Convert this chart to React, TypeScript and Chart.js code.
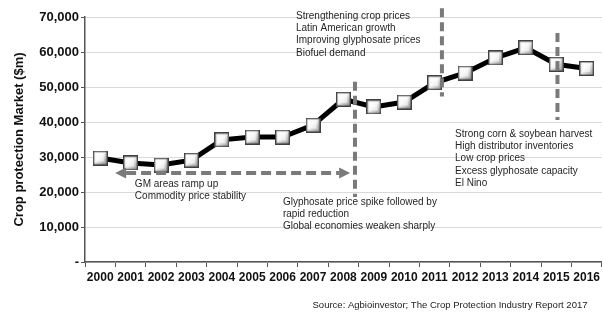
import React, { useEffect, useRef } from "react";
import { Chart, registerables } from "chart.js";

Chart.register(...registerables);

const years = ["2000", "2001", "2002", "2003", "2004", "2005", "2006", "2007", "2008", "2009", "2010", "2011", "2012", "2013", "2014", "2015", "2016"];
const marketValues = [29700, 28300, 27700, 29100, 34900, 35700, 35700, 39100, 46500, 44300, 45700, 51200, 54000, 58300, 61200, 56500, 55300];
const yMin = 0;
const yMax = 70000;
const yStep = 10000;

const noteStrengthening = ["Strengthening crop prices", "Latin American growth", "Improving glyphosate prices", "Biofuel demand"];
const noteStrongHarvest = ["Strong corn & soybean harvest", "High distributor inventories", "Low crop prices", "Excess glyphosate capacity", "El Nino"];
const noteGM = ["GM areas ramp up", "Commodity price stability"];
const noteGlyphosate = ["Glyphosate price spike followed by", "rapid reduction", "Global economies weaken sharply"];
const sourceText = "Source: Agbioinvestor; The Crop Protection Industry Report 2017";
const yTitle = "Crop protection Market ($m)";

function makeMarker(): HTMLCanvasElement {
  const s = 15;
  const c = document.createElement("canvas");
  c.width = s;
  c.height = s;
  const g = c.getContext("2d")!;
  const grad = g.createLinearGradient(0, 0, s, s);
  grad.addColorStop(0, "#ffffff");
  grad.addColorStop(0.45, "#f2f2f2");
  grad.addColorStop(1, "#8c8c8c");
  g.fillStyle = grad;
  g.fillRect(0, 0, s, s);
  g.fillStyle = "rgba(255,255,255,0.6)";
  g.fillRect(3, 3, s - 7, s - 7);
  g.strokeStyle = "#404040";
  g.lineWidth = 1.4;
  g.strokeRect(0.7, 0.7, s - 1.4, s - 1.4);
  return c;
}

const annotationPlugin = {
  id: "annotations",
  afterDatasetsDraw(chart: any) {
    const { ctx, scales } = chart;
    const x = scales.x;
    const y = scales.y;
    const px = (v: number) => x.getPixelForValue(v);
    const py = (v: number) => y.getPixelForValue(v);
    ctx.save();
    ctx.strokeStyle = "#7a7a7a";
    ctx.lineWidth = 4;
    ctx.setLineDash([9, 5]);
    const vlines = [
      [8.38, 51500, 18600],
      [11.24, 72500, 47300],
      [15.04, 65400, 40600],
    ];
    for (const [xv, y1, y2] of vlines) {
      ctx.beginPath();
      ctx.moveTo(px(xv), py(y1));
      ctx.lineTo(px(xv), py(y2));
      ctx.stroke();
    }
    const ay = py(25400);
    const ax1 = px(0.49);
    const ax2 = px(8.22);
    const head = 11;
    ctx.setLineDash([10, 5]);
    ctx.beginPath();
    ctx.moveTo(ax1 + head, ay);
    ctx.lineTo(ax2 - head, ay);
    ctx.stroke();
    ctx.setLineDash([]);
    ctx.fillStyle = "#7a7a7a";
    ctx.beginPath();
    ctx.moveTo(ax1, ay);
    ctx.lineTo(ax1 + head, ay - 5.5);
    ctx.lineTo(ax1 + head, ay + 5.5);
    ctx.closePath();
    ctx.fill();
    ctx.beginPath();
    ctx.moveTo(ax2, ay);
    ctx.lineTo(ax2 - head, ay - 5.5);
    ctx.lineTo(ax2 - head, ay + 5.5);
    ctx.closePath();
    ctx.fill();

    ctx.fillStyle = "#262626";
    ctx.font = "10px 'Liberation Sans', Arial, sans-serif";
    ctx.textAlign = "left";
    ctx.textBaseline = "middle";
    const blocks: [string[], number, number][] = [
      [noteStrengthening, 6.44, 70300],
      [noteStrongHarvest, 11.67, 36570],
      [noteGM, 1.14, 22290],
      [noteGlyphosate, 6.01, 17140],
    ];
    for (const [lines, xv, yv] of blocks) {
      lines.forEach((t, i) => ctx.fillText(t, px(xv), py(yv) + i * 12.3));
    }

    ctx.font = "9.5px 'Liberation Sans', Arial, sans-serif";
    ctx.textAlign = "center";
    const sw = ctx.measureText(sourceText).width;
    const target = 275;
    const sx = chart.width - 153;
    const sy = chart.height - 7;
    ctx.translate(sx, sy);
    ctx.scale(target / sw, 1);
    ctx.fillStyle = "#222";
    ctx.fillText(sourceText, 0, 0);
    ctx.restore();
  },
};

export default function App() {
  const ref = useRef<HTMLCanvasElement>(null);
  useEffect(() => {
    if (!ref.current) return;
    const marker = makeMarker();
    const chart = new Chart(ref.current, {
      type: "line",
      data: {
        labels: years,
        datasets: [
          {
            data: marketValues,
            borderColor: "#000",
            borderWidth: 5,
            tension: 0,
            pointStyle: marker as any,
            pointRadius: 7,
            pointHoverRadius: 7,
            fill: false,
          },
        ],
      },
      options: {
        animation: false,
        responsive: false,
        events: [],
        layout: { autoPadding: false, padding: { top: 17, right: 0, left: 0, bottom: 0 } },
        plugins: { legend: { display: false }, tooltip: { enabled: false } },
        scales: {
          x: {
            type: "category",
            offset: true,
            grid: { display: true, drawOnChartArea: false, drawTicks: true, tickLength: 5, tickColor: "#555", offset: true },
            border: { color: "#555", width: 1.5 },
            ticks: {
              color: "#111",
              font: { family: "'Liberation Sans', Arial, sans-serif", size: 12, weight: "bold" },
              padding: 3,
              maxRotation: 0,
              autoSkip: false,
            },
            afterFit: (s: any) => {
              s.height = 50;
            },
          },
          y: {
            min: yMin,
            max: yMax,
            grid: { color: "#d9d9d9", lineWidth: 1, drawTicks: true, tickLength: 4, tickColor: "#555" },
            border: { color: "#555", width: 1.5 },
            ticks: {
              stepSize: yStep,
              color: "#111",
              padding: 2,
              font: { family: "'Liberation Sans', Arial, sans-serif", size: 13, weight: "bold" },
              callback: (v: any) => (Number(v) === 0 ? "-" : Number(v).toLocaleString("en-US")),
            },
            title: {
              display: true,
              text: yTitle,
              color: "#111",
              font: { family: "'Liberation Sans', Arial, sans-serif", size: 13, weight: "bold" },
              padding: { top: 12, bottom: 0 },
            },
            afterFit: (s: any) => {
              s.width = 85;
            },
          },
        },
      },
      plugins: [annotationPlugin],
    });
    return () => chart.destroy();
  }, []);
  return (
    <div style={{ position: "absolute", left: 0, top: 0, width: 603, height: 312, background: "#fff" }}>
      <canvas ref={ref} width={603} height={312} style={{ display: "block" }} />
    </div>
  );
}
